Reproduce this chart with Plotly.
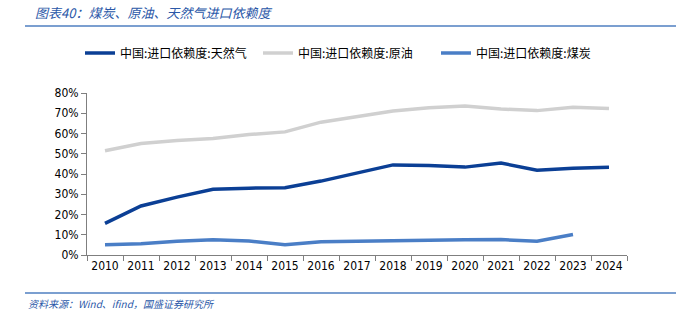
import plotly.graph_objects as go

years = [str(y) for y in range(2010, 2025)]
gas = [15.6, 24.2, 28.6, 32.5, 33.0, 33.2, 36.5, 40.3, 44.5, 44.2, 43.4, 45.4, 41.9, 42.8, 43.3]
oil = [51.5, 55.1, 56.5, 57.5, 59.5, 60.8, 65.6, 68.5, 71.1, 72.7, 73.6, 72.1, 71.3, 73.0, 72.3]
coal = [5.1, 5.6, 6.8, 7.5, 6.9, 5.1, 6.6, 6.9, 7.0, 7.4, 7.5, 7.6, 6.8, 10.1]

names = ["中国:进口依赖度:天然气", "中国:进口依赖度:原油", "中国:进口依赖度:煤炭"]
colors = ["#0B3F95", "#D0D0D0", "#4A7EC6"]

title_text = "图表40：煤炭、原油、天然气进口依赖度"
source_text = "资料来源：Wind、ifind，国盛证券研究所"

fig = go.Figure()
for vals, name, color in zip([gas, oil, coal], names, colors):
    fig.add_trace(go.Scatter(
        x=years[:len(vals)], y=vals, mode="lines", name=name,
        line=dict(color=color, width=3.5),
    ))

axis_font = dict(family="DejaVu Sans Condensed, DejaVu Sans, sans-serif", size=12, color="#000000")

fig.update_layout(
    width=676, height=321,
    margin=dict(l=87, r=49, t=93, b=66, autoexpand=False),
    paper_bgcolor="white", plot_bgcolor="white",
    showlegend=True,
    legend=dict(
        orientation="h", x=80 / 676, y=1 - 53 / 321,
        xref="container", yref="container",
        yanchor="middle", xanchor="left",
        font=dict(family="Noto Sans CJK SC", size=12, color="#000000"),
        entrywidth=133, entrywidthmode="pixels",
        bgcolor="rgba(0,0,0,0)",
    ),
    xaxis=dict(
        type="category", tickson="boundaries", ticks="outside", ticklen=5,
        tickcolor="#7F7F7F", showline=True, linecolor="#7F7F7F", linewidth=1,
        showgrid=False, tickfont=axis_font, tickangle=0, range=[-0.5, 14.5],
    ),
    yaxis=dict(
        range=[0, 80], dtick=10, ticksuffix="%", ticks="outside", ticklen=5,
        tickcolor="#7F7F7F", showline=True, linecolor="#7F7F7F", linewidth=1,
        showgrid=False, zeroline=False, tickfont=axis_font,
    ),
)

fig.add_annotation(
    text=title_text, xref="paper", yref="paper",
    x=-54 / 540, y=1 + 81 / 162, xanchor="left", yanchor="middle",
    showarrow=False,
    font=dict(family="Noto Sans CJK SC", size=13, color="#2B58A8", style="italic"),
)
fig.add_annotation(
    text=source_text, xref="paper", yref="paper",
    x=-61 / 540, y=-48 / 162, xanchor="left", yanchor="middle",
    showarrow=False,
    font=dict(family="Noto Sans CJK SC", size=10, color="#2B58A8", style="italic"),
)
fig.add_shape(type="line", xref="paper", yref="paper",
              x0=-62 / 540, x1=1 + 49 / 540, y0=1 + 67 / 162, y1=1 + 67 / 162,
              line=dict(color="#4F7FC0", width=1.5))
fig.add_shape(type="line", xref="paper", yref="paper",
              x0=-62 / 540, x1=1 + 49 / 540, y0=-38 / 162, y1=-38 / 162,
              line=dict(color="#4F7FC0", width=1.5))

fig.write_html("out.html")
